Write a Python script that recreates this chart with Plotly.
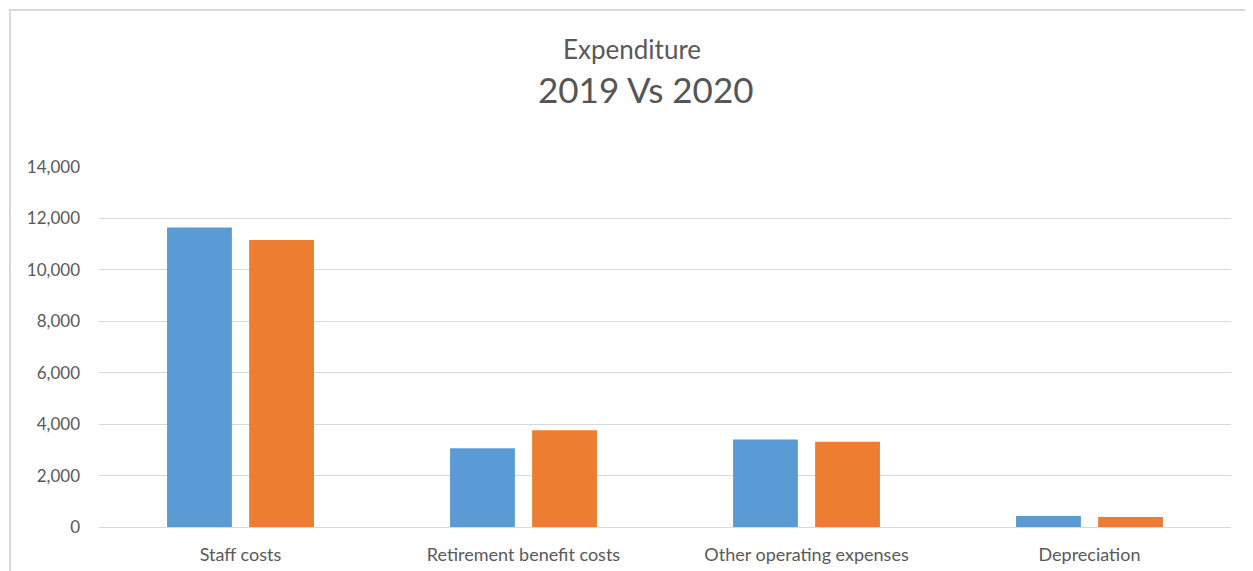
import plotly.graph_objects as go

categories = ["Staff costs", "Retirement benefit costs", "Other operating expenses", "Depreciation"]
values_2019 = [11650, 3060, 3400, 430]
values_2020 = [11160, 3760, 3320, 390]
tick_vals = [0, 2000, 4000, 6000, 8000, 10000, 12000, 14000]
tick_text = ["0", "2,000", "4,000", "6,000", "8,000", "10,000", "12,000", "14,000"]

W, H = 1253, 571
OFF = 8  # page offset of the figure in the browser
# desired plot area in screenshot pixels: x 99..1231, y 167..527
L = 99 - OFF
T = 167 - OFF
R = W - (1231 - OFF)
B = H - (527 - OFF)
pw, ph = W - L - R, H - T - B

def px_x(p):
    return (p - OFF - L) / pw

def px_y(p):
    return (H - B - (p - OFF)) / ph

fig = go.Figure()
fig.add_trace(go.Bar(x=categories, y=values_2019, name="2019",
                     marker=dict(color="#5B9BD5", line=dict(width=0))))
fig.add_trace(go.Bar(x=categories, y=values_2020, name="2020",
                     marker=dict(color="#ED7D31", line=dict(width=0))))

font_family = "Lato, 'Open Sans', sans-serif"

fig.update_layout(
    width=W, height=H,
    margin=dict(l=L, r=R, t=T, b=B, pad=0),
    paper_bgcolor="white", plot_bgcolor="white",
    barmode="group", bargap=0.42, bargroupgap=0.21,
    showlegend=False,
    font=dict(family=font_family, color="#595959", size=17),
    xaxis=dict(showgrid=False, showline=True, linecolor="#d9d9d9", linewidth=1,
               ticks="", ticklabelstandoff=11,
               tickfont=dict(size=18, color="#595959")),
    yaxis=dict(range=[0, 14000], tickvals=tick_vals, ticktext=tick_text,
               showgrid=True, gridcolor="#d9d9d9", gridwidth=1,
               zeroline=True, zerolinecolor="#d9d9d9", zerolinewidth=1,
               showline=False, ticks="", ticklabelstandoff=18,
               tickfont=dict(size=17, color="#595959")),
    annotations=[
        dict(text="Expenditure", xref="paper", yref="paper",
             x=px_x(632), y=px_y(49), xanchor="center", yanchor="middle",
             showarrow=False, font=dict(size=26, color="#595959", family=font_family)),
        dict(text="2019 Vs 2020", xref="paper", yref="paper",
             x=px_x(646), y=px_y(89), xanchor="center", yanchor="middle",
             showarrow=False, font=dict(size=35, color="#555555", family=font_family)),
    ],
    shapes=[
        dict(type="rect", xref="paper", yref="paper",
             x0=px_x(10), x1=px_x(1275), y0=px_y(590), y1=px_y(10),
             line=dict(color="#d9d9d9", width=2), layer="below"),
    ],
)

fig.write_html("out.html")
